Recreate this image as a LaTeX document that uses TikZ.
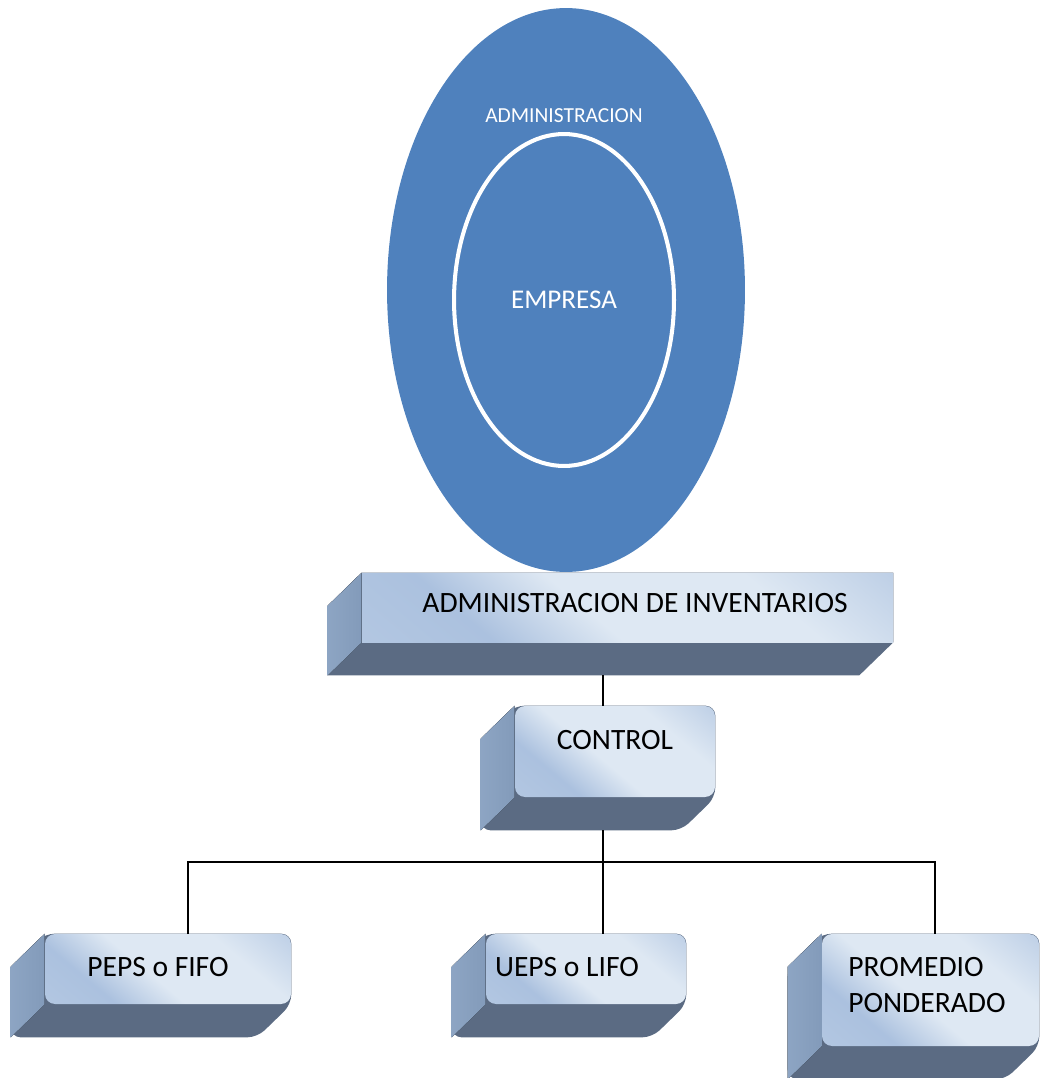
\documentclass[tikz,border=0pt]{standalone}
\usepackage{fontspec}
\setmainfont{Carlito}
\usetikzlibrary{shapes.geometric,backgrounds}

\definecolor{admblue}{HTML}{4F81BD}
\definecolor{facelt}{HTML}{DEE8F3}
\definecolor{facebl}{HTML}{A2BADB}
\definecolor{sidelt}{HTML}{87A0C0}
\definecolor{sidedk}{HTML}{5B6B83}

\pgfdeclarehorizontalshading{facegrad}{100bp}{color(0bp)=(facelt!40!facebl); color(30bp)=(facebl!85!facelt); color(45bp)=(facelt); color(68bp)=(facelt); color(100bp)=(facebl)}

% depth of the boxes, left and down
\newcommand{\extrude}[2][0pt]{%
  \begin{scope}[on background layer]
    \fill[sidedk,rounded corners=#1] (#2.north west) -- (#2.north east) --
    (#2.south east) -- ++(-34,33) -- ([shift={(-34,33)}]#2.south west) --
    ([shift={(-34,33)}]#2.north west) -- cycle;
    \fill[left color=sidelt!95!white,right color=sidelt!90!sidedk] (#2.north west) --
    ([shift={(-34,33)}]#2.north west) -- ([shift={(-34,33)}]#2.south west) --
    (#2.south west) -- cycle;
  \end{scope}}

\begin{document}
\begin{tikzpicture}[x=0.02cm,y=-0.02cm,
    face/.style={rectangle,shading=facegrad,shading angle=50,inner sep=0pt},
    link/.style={line width=1.1pt},
    txt/.style={inner sep=0pt,font=\fontsize{16.8}{20}\selectfont}]

  \useasboundingbox (0,0) rectangle (1039,1078);

  % the two ellipses
  \node [ellipse,fill=admblue,minimum width=7.16cm,minimum height=11.28cm]
        (adm) at (566,290) {};
  \node [ellipse,draw=white,line width=2.3pt,fill=admblue,
         minimum width=4.4cm,minimum height=6.64cm] (emp) at (564,300) {};
  \node [txt,text=white,font=\fontsize{12.2}{14}\selectfont] (adm-t) at (564,116)
        {ADMINISTRACION};
  \node [txt,text=white,font=\fontsize{15.4}{18}\selectfont] (emp-t) at (564,300)
        {EMPRESA};

  % boxes
  \node [face,minimum width=10.62cm,minimum height=1.38cm] (inv) at (627.5,607.5) {};
  \extrude{inv}
  \node [txt] (inv-t) at (635,603) {ADMINISTRACION DE INVENTARIOS};

  \node [face,rounded corners=0.2cm,minimum width=4cm,minimum height=1.82cm]
        (ctl) at (615,751.5) {};
  \extrude[0.2cm]{ctl}
  \node [txt] (ctl-t) at (615,740) {CONTROL};

  \node [face,rounded corners=0.2cm,minimum width=4.92cm,minimum height=1.4cm]
        (peps) at (168,969) {};
  \extrude[0.2cm]{peps}
  \node [txt] (peps-t) at (158,967) {PEPS o FIFO};

  \node [face,rounded corners=0.2cm,minimum width=4cm,minimum height=1.4cm]
        (ueps) at (586,969) {};
  \extrude[0.2cm]{ueps}
  \node [txt] (ueps-t) at (567,967) {UEPS o LIFO};

  \node [face,rounded corners=0.2cm,minimum width=4.34cm,minimum height=2.24cm]
        (prom) at (930.5,990) {};
  \extrude[0.2cm]{prom}
  \node [txt,anchor=west,align=left,font=\fontsize{16.8}{20.5}\selectfont]
        (prom-t) at (848,985) {PROMEDIO\\PONDERADO};

  % connectors
  \coordinate (j0) at (603,675);
  \coordinate (j1) at (603,830);
  \coordinate (j2) at (603,862);
  \coordinate (p-in) at (188,934);
  \coordinate (u-in) at (603,934);
  \coordinate (r-in) at (935,934);

  \draw [link] (j0) -- (j0 |- ctl.north);
  \draw [link] (j1) -- (u-in);
  \draw [link] (p-in) |- (j2) -| (r-in);

\end{tikzpicture}
\end{document}
